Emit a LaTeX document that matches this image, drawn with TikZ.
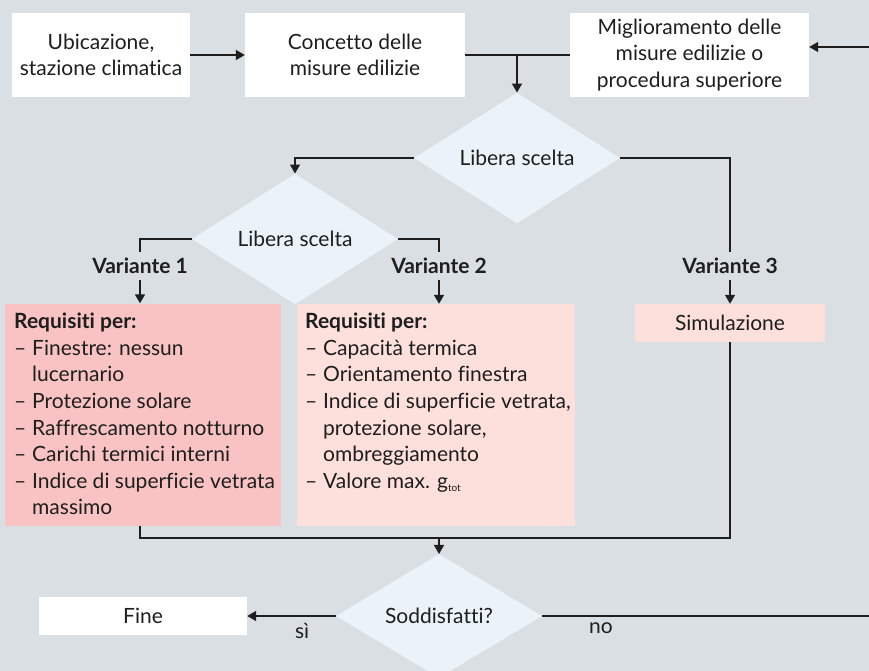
\documentclass[tikz,border=0pt]{standalone}
\usepackage{fontspec}
\setmainfont{Lato}[Ligatures=NoCommon]
\usetikzlibrary{shapes.geometric,arrows.meta}

\definecolor{bgc}{HTML}{D9DFE2}
\definecolor{diafill}{HTML}{EBF3FA}
\definecolor{reqa}{HTML}{F8C3C2}
\definecolor{reqb}{HTML}{FDDFDC}
\definecolor{ink}{HTML}{1E1E1E}

\newcommand\itm{\makebox[18pt][l]{–}}
\newcommand\cnt{\hspace*{18pt}}

\begin{document}
\begin{tikzpicture}[x=1pt, y=-1pt,
	every node/.style={font=\fontsize{21}{26.6}\selectfont, text=ink},
	box/.style={fill=white, minimum height=84, align=center, inner sep=0},
	dia/.style={diamond, fill=diafill, minimum width=206, minimum height=106, inner sep=0},
	lbl/.style={font=\fontsize{21}{26.6}\selectfont\bfseries, minimum height=28, inner sep=0},
	reqbox/.style={minimum height=222, inner sep=0},
	reqtxt/.style={anchor=north west, align=left, inner sep=0},
	line/.style={draw=ink, line width=1.5pt},
	arr/.style={line, -{Triangle[length=9pt, width=10pt]}}]
				\useasboundingbox[fill=bgc] (0,0) rectangle (869,671);
				% top row
				\node[box, minimum width=178] (ubic)at(101, 55) {Ubicazione,\\stazione climatica};
				\node[box, minimum width=220] (conc)at(355, 55) {Concetto delle\\misure edilizie};
				\node[box, minimum width=239] (migl)at(689.5, 55) {Miglioramento delle\\misure edilizie o\\procedura superiore};
				% choices
				\node[dia] (lib1)at(517, 158) {Libera scelta};
				\node[dia] (lib2)at(295, 239) {Libera scelta};
				\node[lbl] (var1)at(140, 266) {Variante 1};
				\node[lbl] (var2)at(439, 266) {Variante 2};
				\node[lbl] (var3)at(730, 266) {Variante 3};
				% requirements
				\node[reqbox, fill=reqa, minimum width=276] (req1)at(143, 414.5) {};
				\node[reqbox, fill=reqb, minimum width=278] (req2)at(436, 415) {};
				\node[reqbox, fill=reqb, minimum width=190, minimum height=38] (sim)at(730, 323) {Simulazione};
				\node[reqtxt] (txt1)at(14, 313) {\textbf{Requisiti per:}\\
					\itm Finestre: nessun\\
					\cnt lucernario\\
					\itm Protezione solare\\
					\itm Raffrescamento notturno\\
					\itm Carichi termici interni\\
					\itm Indice di superficie vetrata\\
					\cnt massimo};
				\node[reqtxt] (txt2)at(305, 313) {\textbf{Requisiti per:}\\
					\itm Capacità termica\\
					\itm Orientamento finestra\\
					\itm Indice di superficie vetrata,\\
					\cnt protezione solare,\\
					\cnt ombreggiamento\\
					\itm Valore max. g\textsubscript{\fontsize{10}{10}\selectfont tot}};
				% end
				\node[dia] (sodd)at(439, 616) {Soddisfatti?};
				\node[box, minimum width=208, minimum height=38] (fine)at(143, 616) {Fine};
				\coordinate (rin)at(869, 47);
				\coordinate (rout)at(869, 616);
				\coordinate (mrg)at(439, 538);
				% connectors
				\draw[arr] (ubic) -- (conc);
				\draw[line] (conc) -- (migl);
				\draw[arr] (conc.east -| lib1.north) -- (lib1.north);
				\draw[arr] (rin) -- (rin -| migl.east);
				\draw[arr] (lib1.west) -| (lib2.north);
				\draw[line] (lib1.east) -| (var3.north);
				\draw[line] (lib2.west) -| (var1.north);
				\draw[line] (lib2.east) -| (var2.north);
				\draw[arr] (var1.south) -- (var1.south |- req1.north);
				\draw[arr] (var2.south) -- (var2.south |- req2.north);
				\draw[arr] (var3.south) -- (sim.north);
				\draw[line] (var1 |- req1.south) |- (mrg) -| (sim.south);
				\draw[arr] (mrg) -- (sodd.north);
				\draw[arr] (sodd.west) -- (fine.east) node[pos=0.38, below=3pt] (si) {sì};
				\draw[line] (sodd.east) -- (rout) node[pos=0.18, below=3pt] (no) {no};
			\end{tikzpicture}
\end{document}
